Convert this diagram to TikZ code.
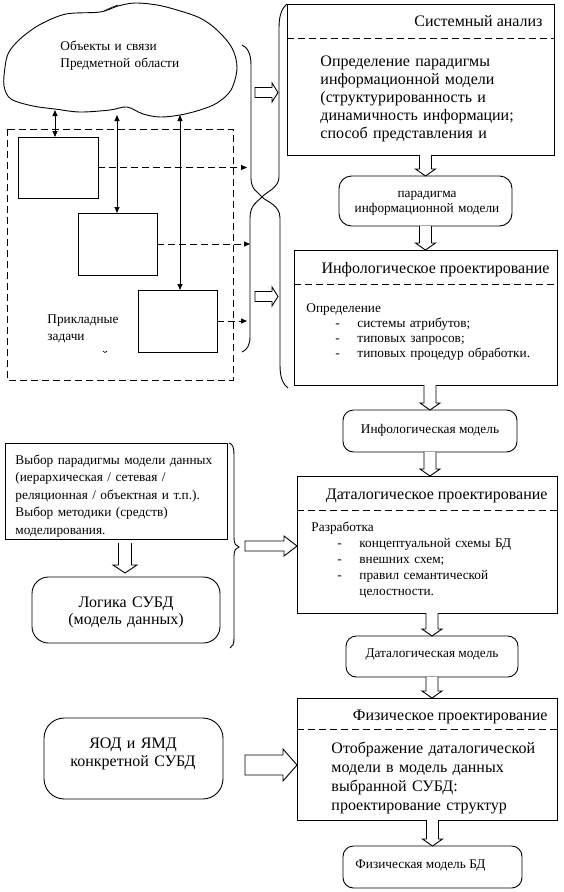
\documentclass[tikz,border=0pt]{standalone}
\usepackage{fontspec}
\setmainfont{Liberation Serif}
\usetikzlibrary{arrows.meta, calc}
% полая стрелка вниз: #1 начало, #2 острие, #3 полуширина ствола, #4 полуширина головы, #5 длина головы
\newcommand{\strelkaVniz}[5]{
\draw[kontur] ($(#1)+(-#3,0)$) -- ($(#2)+(-#3,-#5)$) -- ($(#2)+(-#4,-#5)$) -- (#2) -- ($(#2)+(#4,-#5)$) -- ($(#2)+(#3,-#5)$) -- ($(#1)+(#3,0)$);
}
% полая стрелка вправо
\newcommand{\strelkaVpravo}[5]{
\draw[kontur] ($(#1)+(0,-#3)$) -- ($(#2)+(-#5,-#3)$) -- ($(#2)+(-#5,-#4)$) -- (#2) -- ($(#2)+(-#5,#4)$) -- ($(#2)+(-#5,#3)$) -- ($(#1)+(0,#3)$) -- cycle;
}

\begin{document}
\begin{tikzpicture}[x=1pt, y=-1pt, line width=0.9pt,
    ramka/.style 2 args={draw, minimum width=#1, minimum height=#2, anchor=north west, inner sep=0pt, outer sep=0pt},
    okrugl/.style 2 args={ramka={#1}{#2}, rounded corners=#2/4},
    bolshoj/.style={inner sep=0pt, font=\fontsize{16}{18}\selectfont},
    malyj/.style={inner sep=0pt, font=\fontsize{13.3}{15}\selectfont},
    razdel/.style={dash pattern=on 7pt off 4pt},
    kontur/.style={fill=white},
    svyaz/.style={>={Triangle[length=6pt,width=5pt]}}]
    \useasboundingbox (0,0) rectangle (563,892);
    % Облако
    \draw plot[smooth cycle, tension=0.55] coordinates {(5,67) (8,54) (15,44) (26,34) (41,24) (66,14) (100,12) (118,6) (135,3) (157,5) (177,10) (200,18) (217,30) (232,48) (237,68) (231,90) (217,103) (200,110) (180,115) (160,117) (143,114) (127,107) (110,110) (80,112) (55,109) (33,106) (11,99) (4,86)};
    \draw[line width=0.6pt] (104,11) .. controls (108,9) and (112,7) .. (118,5);
    \node[malyj, text width=150pt, anchor=base west, font=\fontsize{13.3}{17}\selectfont] (oblTxt) at (60,50) {Объекты и связи\\ Предметной области};
    \coordinate (o1) at (55,110);
    \coordinate (o2) at (117,115);
    \coordinate (o3) at (180,115);
    % Прикладные задачи
    \draw[razdel] (7,129) rectangle (233,380);
    \node[ramka={80pt}{61pt}] (zad1) at (18,137) {};
    \node[ramka={79pt}{62pt}] (zad2) at (78,213) {};
    \node[ramka={79pt}{62pt}] (zad3) at (138,290) {};
    \node[malyj, text width=100pt, anchor=base west, font=\fontsize{13.3}{17}\selectfont] (priklTxt) at (47,323) {Прикладные\\ задачи};
    \draw[line width=0.6pt] (103,351) .. controls (104,353) and (106,353) .. (107,351);
    \draw[svyaz, <->] (o1) -- (o1 |- zad1.north);
    \draw[svyaz, <->] (o2) -- (o2 |- zad2.north);
    \draw[svyaz, <->] (o3) -- (o3 |- zad3.north);
    \coordinate (k1) at (247,0);
    \coordinate (k2) at (250,0);
    \draw[svyaz, razdel, ->] (zad1.east) -- (zad1.east -| k1);
    \draw[svyaz, razdel, ->] (zad2.east) -- (zad2.east -| k2);
    \draw[svyaz, razdel, ->] (zad3.east) -- (zad3.east -| k1);
    % Скобки
    \draw (242,45) .. controls (247,47) and (251,53) .. (251,65) -- (251,178) .. controls (251,190) and (258,192) .. (262,197) .. controls (267,202) and (280,205) .. (280,218) -- (280,365) .. controls (280,378) and (283,384) .. (288,388);
    \draw (287,4) .. controls (282,8) and (279,15) .. (279,28) -- (279,177) .. controls (279,188) and (266,192) .. (262,197) .. controls (257,202) and (250,205) .. (250,218) -- (250,337) .. controls (250,345) and (247,350) .. (242,352);
    \coordinate (r1a) at (255,92.5);
    \coordinate (r1b) at (278,92.5);
    \strelkaVpravo{r1a}{r1b}{5}{9.5}{6}
    \coordinate (r2a) at (255,296.5);
    \coordinate (r2b) at (278,296.5);
    \strelkaVpravo{r2a}{r2b}{5}{9.5}{6}
    % Системный анализ
    \node[ramka={267pt}{151pt}] (sist) at (287,4) {};
    \draw[razdel] ($(sist.north west)+(0,34)$) -- ($(sist.north east)+(0,34)$);
    \node[bolshoj, anchor=base east] (sistZag) at (543,26) {Системный анализ};
    \node[bolshoj, text width=230pt, anchor=base west] (sistTxt) at (320,66) {Определение парадигмы\\ информационной модели\\ (структурированность и\\ динамичность информации;\\ способ представления и};
    \node[okrugl={173pt}{50pt}] (par) at (339,176) {};
    \node[malyj, text width=170pt, align=center, anchor=base] (parTxt) at (427,197) {парадигма\\ информационной модели};
    % Инфологическое проектирование
    \node[ramka={263pt}{135pt}] (info) at (294,250) {};
    \draw[razdel] ($(info.north west)+(0,34)$) -- ($(info.north east)+(0,34)$);
    \node[bolshoj, anchor=base east] (infoZag) at (550,273) {Инфологическое проектирование};
    \node[malyj, text width=240pt, anchor=base west] (infoTxt) at (306,312) {Определение\\
        \hspace*{29pt}\makebox[22pt][l]{-}системы атрибутов;\\
        \hspace*{29pt}\makebox[22pt][l]{-}типовых запросов;\\
        \hspace*{29pt}\makebox[22pt][l]{-}типовых процедур обработки.};
    \node[okrugl={174pt}{42pt}] (infomod) at (343,410) {};
    \node[malyj, anchor=base] (infomodTxt) at (430,433) {Инфологическая модель};
    % Даталогическое проектирование
    \node[ramka={260pt}{137pt}] (dat) at (297,476) {};
    \draw[razdel] ($(dat.north west)+(0,34)$) -- ($(dat.north east)+(0,34)$);
    \node[bolshoj, anchor=base east] (datZag) at (548,499) {Даталогическое проектирование};
    \node[malyj, text width=240pt, anchor=base west, font=\fontsize{13.3}{16.2}\selectfont] (datTxt) at (311,531) {Разработка\\
        \hspace*{26pt}\makebox[22pt][l]{-}концептуальной схемы БД\\
        \hspace*{26pt}\makebox[22pt][l]{-}внешних схем;\\
        \hspace*{26pt}\makebox[22pt][l]{-}правил семантической\\
        \hspace*{26pt}\makebox[22pt][l]{}целостности.};
    \node[okrugl={172pt}{41pt}] (datmod) at (346,636) {};
    \node[malyj, anchor=base] (datmodTxt) at (432,657) {Даталогическая модель};
    % Физическое проектирование
    \node[ramka={260pt}{122pt}] (fiz) at (297,698) {};
    \draw[razdel] ($(fiz.north west)+(0,31)$) -- ($(fiz.north east)+(0,31)$);
    \node[bolshoj, anchor=base east] (fizZag) at (548,720) {Физическое проектирование};
    \node[bolshoj, text width=230pt, anchor=base west, font=\fontsize{16}{19}\selectfont] (fizTxt) at (331,753) {Отображение даталогической\\ модели в модель данных\\ выбранной СУБД:\\ проектирование структур};
    \node[okrugl={179pt}{42pt}] (fizmod) at (343,846) {};
    \node[malyj, anchor=base west] (fizmodTxt) at (355,868) {Физическая модель БД};
    % Стрелки между блоками
    \coordinate (v1a) at (sist.south -| par.north);
    \strelkaVniz{v1a}{par.north}{6}{10}{7}
    \coordinate (v2b) at (par.south |- info.north);
    \strelkaVniz{par.south}{v2b}{6}{10}{7}
    \coordinate (v3a) at (infomod.north |- info.south);
    \strelkaVniz{v3a}{infomod.north}{6}{10}{7}
    \coordinate (v4b) at (infomod.south |- dat.north);
    \strelkaVniz{infomod.south}{v4b}{6}{10}{7}
    \coordinate (v5a) at (datmod.north |- dat.south);
    \strelkaVniz{v5a}{datmod.north}{6}{10}{7}
    \coordinate (v6b) at (datmod.south |- fiz.north);
    \strelkaVniz{datmod.south}{v6b}{6}{10}{7}
    \coordinate (v7a) at (fizmod.north |- fiz.south);
    \strelkaVniz{v7a}{fizmod.north}{6}{10}{7}
    % Выбор модели данных
    \node[ramka={222pt}{96pt}] (vybor) at (5,443) {};
    \node[malyj, text width=220pt, anchor=base west, font=\fontsize{13.3}{17.5}\selectfont] (vyborTxt) at (15,464) {Выбор парадигмы модели данных\\ (иерархическая / сетевая /\\ реляционная / объектная и т.п.).\\ Выбор методики (средств)\\ моделирования.};
    \node[okrugl={188pt}{66pt}] (logika) at (32,577) {};
    \node[bolshoj, text width=180pt, align=center, anchor=base, font=\fontsize{16}{17}\selectfont] (logikaTxt) at (126,607) {Логика СУБД\\ (модель данных)};
    \coordinate (v8a) at (125,543);
    \coordinate (v8b) at (125,573);
    \strelkaVniz{v8a}{v8b}{6.5}{12}{8}
    \draw (229,443) .. controls (233,444) and (234,448) .. (234,455) -- (234,538) .. controls (234,544) and (236,546) .. (239,547) .. controls (236,548) and (234,550) .. (234,556) -- (234,638) .. controls (234,644) and (233,646) .. (230,648);
    \coordinate (r3a) at (245,546);
    \coordinate (r3b) at (r3a -| dat.west);
    \strelkaVpravo{r3a}{r3b}{5}{10}{13}
    % ЯОД и ЯМД
    \node[okrugl={179pt}{81pt}] (yod) at (44,718) {};
    \node[bolshoj, text width=170pt, align=center, anchor=base] (yodTxt) at (133,748) {ЯОД и ЯМД\\ конкретной СУБД};
    \coordinate (r4a) at (245,765);
    \coordinate (r4b) at (r4a -| fiz.west);
    \strelkaVpravo{r4a}{r4b}{10}{16}{14}
\end{tikzpicture}
\end{document}
